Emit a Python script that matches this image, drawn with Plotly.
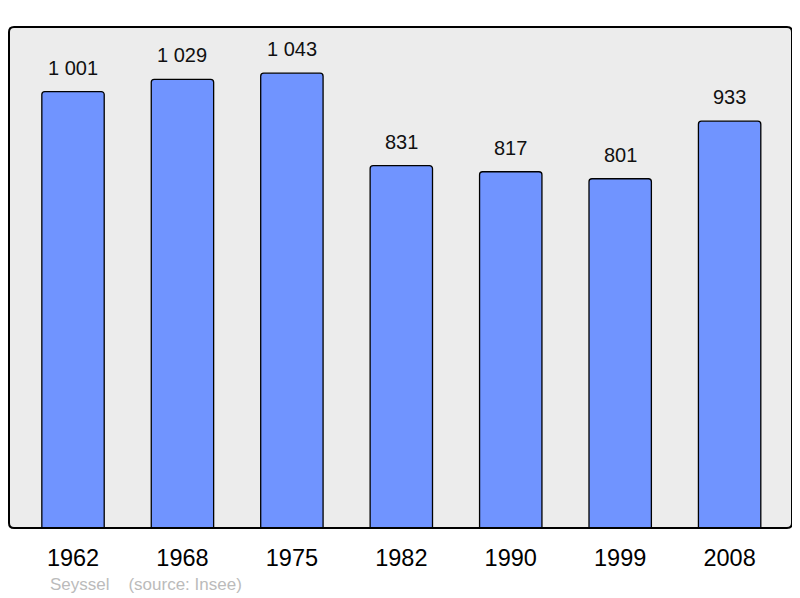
import plotly.graph_objects as go

years = ["1962", "1968", "1975", "1982", "1990", "1999", "2008"]
population = [1001, 1029, 1043, 831, 817, 801, 933]
value_labels = [f"{v:,}".replace(",", " ") for v in population]
source_text = "Seyssel    (source: Insee)"

FONT = "Liberation Sans, Arial, sans-serif"

fig = go.Figure()
fig.add_trace(go.Bar(
    x=years, y=population,
    marker=dict(color="#7094ff", line=dict(color="#000000", width=1.3), cornerradius=3),
    width=0.57,
    hoverinfo="skip",
))

for i, (v, lab) in enumerate(zip(population, value_labels)):
    fig.add_annotation(x=i, y=v, text=lab, showarrow=False, yanchor="bottom",
                       yshift=11, font=dict(family=FONT, size=20, color="#111111"))

fig.add_annotation(xref="paper", yref="paper", x=(48-9)/783, y=-(584-528)/501,
                   xanchor="left", yanchor="middle", text=source_text, showarrow=False,
                   font=dict(family=FONT, size=17, color="#bbbbbb"))

# rounded plot frame (paper coordinates)
rx, ry = 5/783, 5/501
frame = (f"M {rx},0 L {1-rx},0 Q 1,0 1,{ry} L 1,{1-ry} Q 1,1 {1-rx},1 "
         f"L {rx},1 Q 0,1 0,{1-ry} L 0,{ry} Q 0,0 {rx},0 Z")
fig.add_shape(type="path", xref="paper", yref="paper", path=frame,
              line=dict(color="#000000", width=2), layer="above")

# page body has an 8px default margin, so the figure is offset by 8px
fig.update_layout(
    width=792, height=590,
    margin=dict(l=1, r=8, t=19, b=70),
    paper_bgcolor="#ffffff",
    plot_bgcolor="#ececec",
    showlegend=False,
    xaxis=dict(type="category", range=[-0.585, 6.57], showgrid=False, zeroline=False, ticks="",
               ticklabelstandoff=13,
               tickfont=dict(family=FONT, size=23.5, color="#000000")),
    yaxis=dict(range=[0, 1149], showgrid=False, zeroline=False, showticklabels=False, ticks=""),
)

fig.write_html("out.html")
